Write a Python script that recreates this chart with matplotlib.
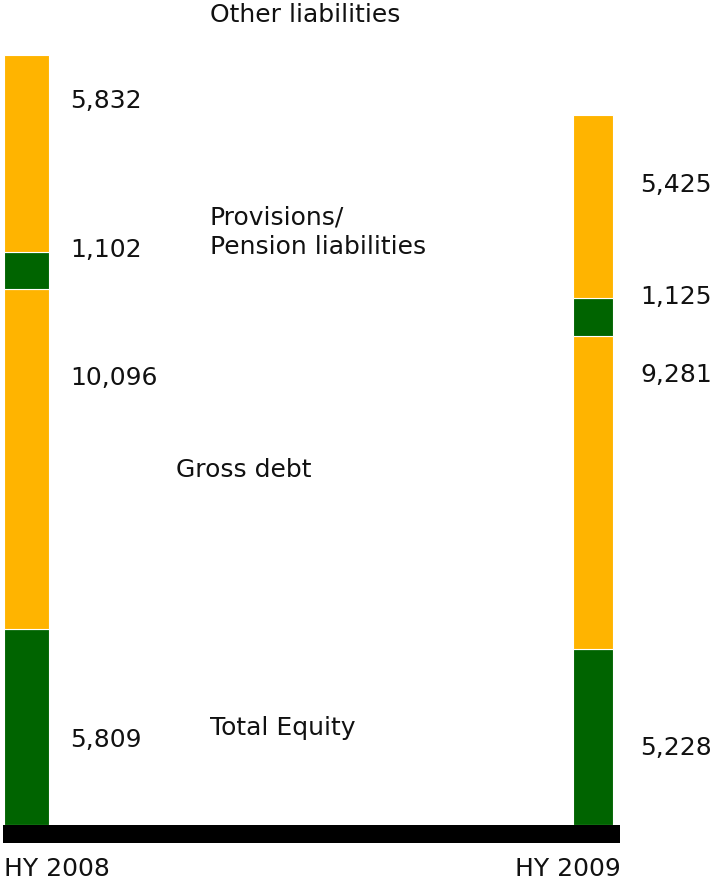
import matplotlib.pyplot as plt

# balance sheet structure, EUR m
periods = ["HY 2008", "HY 2009"]
equity = [5809, 5228]
gross_debt = [10096, 9281]
provisions = [1102, 1125]
other = [5832, 5425]

segments = ["Total Equity", "Gross debt", "Provisions/\nPension liabilities", "Other liabilities"]
colors = ["#006400", "#FFB400", "#006400", "#FFB400"]

# figure 713x884 px
fig = plt.figure(figsize=(7.13, 8.84), dpi=100)
W, H = 713.0, 884.0

total = equity[0] + gross_debt[0] + provisions[0] + other[0]
s = total / 770.0  # value units per pixel
ax = fig.add_axes([0, 0, 1, (884 - 55) / H])
ax.set_ylim(-59 * s, total)
ax.set_xlim(-26.5 / 566.5, (713 - 26.5) / 566.5)
ax.axis("off")

x = [0, 1]
widths = [45 / 566.5, 40 / 566.5]
bottom = [0, 0]
for vals, c in zip([equity, gross_debt, provisions, other], colors):
    ax.bar(x, vals, width=widths, bottom=bottom, color=c, edgecolor="white", linewidth=0.8)
    bottom = [b + v for b, v in zip(bottom, vals)]

# black base line under the bars
ax.axhspan(-18 * s, 0, xmin=3 / W, xmax=620 / W, color="black", lw=0)

font = dict(fontsize=18, family="DejaVu Sans", color="#111111", va="center")

# value labels (pixel rows from the top)
left_rows = [740, 378, 250, 101]
right_rows = [748, 375, 297, 185]
for i, vals in enumerate(zip(equity, gross_debt, provisions, other)):
    rows = left_rows if i == 0 else right_rows
    xpx = 70 if i == 0 else 640
    for v, r in zip(vals, rows):
        fig.text(xpx / W, 1 - r / H, f"{v:,}", **font)

# segment names
fig.text(210 / W, 1 - 728 / H, segments[0], **font)
fig.text(176 / W, 1 - 470 / H, segments[1], **font)
fig.text(210 / W, 1 - 232 / H, segments[2], linespacing=1.3, **font)
fig.text(210 / W, 1 - 15 / H, segments[3], **font)

fig.text(4 / W, 1 - 869 / H, periods[0], ha="left", **font)
fig.text(621 / W, 1 - 869 / H, periods[1], ha="right", **font)

fig.savefig("out.png", dpi=100)
